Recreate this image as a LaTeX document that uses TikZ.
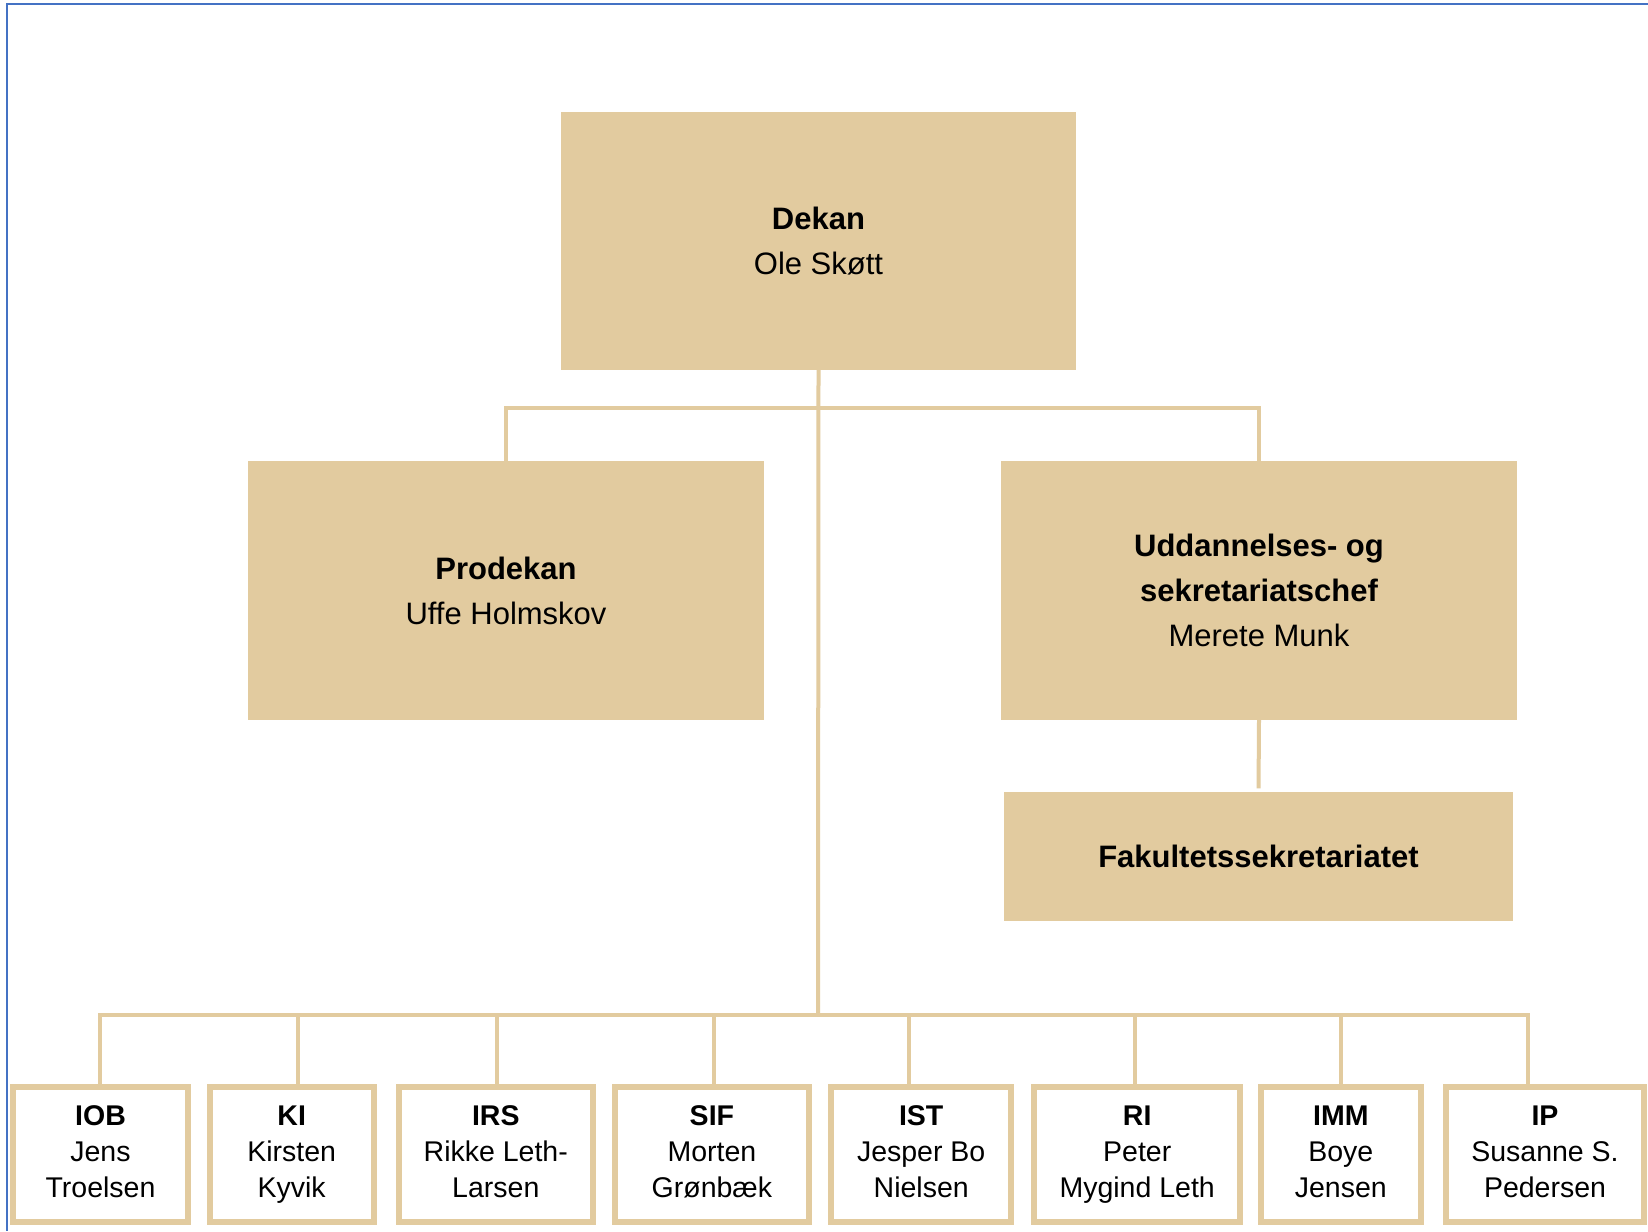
\documentclass[tikz,border=0pt]{standalone}
\usepackage{fontspec}
\setmainfont{Liberation Sans}
\definecolor{boxtan}{HTML}{E2CB9F}
\definecolor{frameblue}{HTML}{4472C4}
\begin{document}
\begin{tikzpicture}[x=1pt,y=-1pt,
  fillbox/.style={fill=boxtan, draw=none, inner sep=0pt, outer sep=0pt, align=center,
    font=\fontsize{31}{45}\selectfont},
  unitbox/.style={draw=boxtan, line width=6pt, fill=white, inner sep=0pt, outer sep=0pt,
    align=center, minimum height=135pt, font=\fontsize{28.5}{36}\selectfont},
  conn/.style={draw=boxtan, line width=4pt, line join=miter},
  frame/.style={draw=frameblue, line width=2pt}]
\useasboundingbox (0,0) rectangle (1648,1231);
\fill[white] (0,0) rectangle (1648,1231);
\draw[frame] (1648,4.5) -- (6.7,4.5) -- (6.7,1231);

% upper boxes
\node[fillbox, minimum width=515pt, minimum height=258pt] (dekan) at (818.5,241) {\textbf{Dekan}\\Ole Skøtt};
\node[fillbox, minimum width=516pt, minimum height=259pt] (prodekan) at (506,590.5) {\textbf{Prodekan}\\Uffe Holmskov};
\node[fillbox, minimum width=516pt, minimum height=259pt] (udd) at (1259,590.5) {\textbf{Uddannelses- og}\\\textbf{sekretariatschef}\\Merete Munk};
\node[fillbox, minimum width=509pt, minimum height=128.5pt] (fak) at (1258.5,856.7) {\textbf{Fakultetssekretariatet}};

% bottom boxes
\node[unitbox, minimum width=175pt] (iob) at (100.5,1154) {\strut\textbf{IOB}\\Jens\\Troelsen\strut};
\node[unitbox, minimum width=164pt] (ki) at (291.7,1154) {\strut\textbf{KI}\\Kirsten\\Kyvik\strut};
\node[unitbox, minimum width=194.3pt] (irs) at (495.8,1154) {\strut\textbf{IRS}\\Rikke Leth-\\Larsen\strut};
\node[unitbox, minimum width=193.7pt] (sif) at (711.9,1154) {\strut\textbf{SIF}\\Morten\\Grønbæk\strut};
\node[unitbox, minimum width=180.5pt] (ist) at (921.2,1154) {\strut\textbf{IST}\\Jesper Bo\\Nielsen\strut};
\node[unitbox, minimum width=205.5pt] (ri) at (1137.2,1154) {\strut\textbf{RI}\\Peter\\Mygind Leth\strut};
\node[unitbox, minimum width=159.6pt] (imm) at (1340.8,1154) {\strut\textbf{IMM}\\Boye\\Jensen\strut};
\node[unitbox, minimum width=198pt] (ip) at (1545,1154) {\strut\textbf{IP}\\Susanne S.\\Pedersen\strut};

% bus coordinates
\coordinate (topbus) at (818,408);
\coordinate (botbus) at (818,1014.5);
\coordinate (dIOB) at (100,1014.5);
\coordinate (dKI) at (298.3,1014.5);
\coordinate (dIRS) at (497.3,1014.5);
\coordinate (dSIF) at (714.3,1014.5);
\coordinate (dIST) at (908.5,1014.5);
\coordinate (dRI) at (1135,1014.5);
\coordinate (dIMM) at (1341,1014.5);
\coordinate (dIP) at (1527.7,1014.5);

% connectors
\draw[conn] (prodekan.north) -- (prodekan.north |- topbus) -- (udd.north |- topbus) -- (udd.north);
\draw[conn] (dekan.south) -- (botbus);
\draw[conn, shorten >=4pt] (udd.south) -- (fak.north);
\draw[conn] (dIOB |- iob.north) -- (dIOB) -- (dIP) -- (dIP |- ip.north);
\draw[conn] (dKI) -- (dKI |- ki.north);
\draw[conn] (dIRS) -- (dIRS |- irs.north);
\draw[conn] (dSIF) -- (dSIF |- sif.north);
\draw[conn] (dIST) -- (dIST |- ist.north);
\draw[conn] (dRI) -- (dRI |- ri.north);
\draw[conn] (dIMM) -- (dIMM |- imm.north);
\end{tikzpicture}
\end{document}
